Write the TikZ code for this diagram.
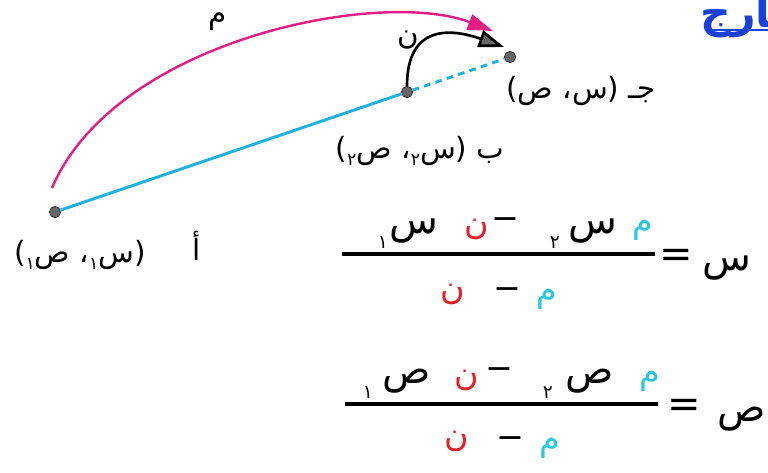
\documentclass[tikz,border=0pt]{standalone}
\usepackage{fontspec}
\usepackage{tikz}
\usetikzlibrary{arrows.meta}
\newfontfamily\arabicfont[Script=Arabic]{DejaVu Sans}
\TeXXeTstate=1
\definecolor{cian}{RGB}{30,178,226}
\definecolor{cel}{RGB}{40,200,225}
\definecolor{vermell}{RGB}{232,30,40}
\definecolor{rosa}{RGB}{228,28,132}
\definecolor{blau}{RGB}{25,65,215}
\newcommand\sota[1]{\raisebox{-0.45ex}{\fontsize{13}{13}\selectfont #1}}

\begin{document}
\begin{tikzpicture}[x=0.75pt,y=-0.75pt,
        punt/.style={circle,draw=black,fill=black!60,inner sep=0pt,minimum size=8.5pt},
        etiq/.style={font=\arabicfont\fontsize{22}{26}\selectfont,inner sep=0pt},
        lletra/.style={font=\arabicfont\fontsize{30}{34}\selectfont,inner sep=0pt},
        petita/.style={font=\arabicfont\fontsize{25}{28}\selectfont,inner sep=0pt},
        index/.style={font=\arabicfont\fontsize{14}{16}\selectfont,inner sep=0pt},
        barra/.style={line width=2.6pt}]
        \useasboundingbox (0,0) rectangle (768,472);
        \clip (0,0) rectangle (768,472);
        % Els tres punts i el segment
        \node[punt] (A) at (55,212) {};
        \node[punt] (B) at (407,92) {};
        \node[punt] (C) at (510,57) {};
        \draw[cian,line width=2.2pt] (A) -- (B);
        \draw[cian,line width=2.2pt,dash pattern=on 5pt off 4pt] (B) -- (C);
        % Arcs amb fletxa
        \coordinate (m0) at (52,188);
        \coordinate (m1) at (493,31);
        \draw[rosa,line width=1.8pt,-{Triangle[length=19pt,width=12pt]}]
                (m0) .. controls (115,40) and (380,-12) .. (m1);
        \coordinate (n1) at (504,47);
        \draw[line width=2pt,-{Triangle[length=19pt,width=13pt,fill=black!60]}]
                (B.north) .. controls (407,25) and (450,28) .. (n1);
        \node[etiq] (lm) at (218,22) {م};
        \node[etiq] (ln) at (408,40) {ن};
        % Coordenades
        \node[etiq] (lC) at (581,91) {\beginR جـ (س، ص)\endR};
        \node[etiq] (lB) at (420,151) {\beginR ب (س\sota{٢}، ص\sota{٢})\endR};
        \node[etiq] (lA) at (197,246) {أ};
        \node[etiq] (lA2) at (80,255) {\beginR (س\sota{١}، ص\sota{١})\endR};
        % Titol tallat
        \node[font=\arabicfont\bfseries\fontsize{32}{36}\selectfont,text=blau,anchor=west,inner sep=0pt]
                (tit) at (700,16) {خارج};
        \draw[blau,line width=1.8pt] (705,30) -- (768,30);
        % Primera formula: x
        \draw[barra] (342,254) -- (655,254);
        \node[index] (x1i) at (383,243) {١};
        \node[lletra] (x1) at (414,231) {س};
        \node[petita,text=vermell] (nx) at (477,229) {ن};
        \node[petita] (mx) at (505,224) {−};
        \node[index] (x2i) at (555,243) {٢};
        \node[lletra] (x2) at (593,231) {س};
        \node[petita,text=cel] (mx2) at (643,230) {م};
        \node[petita,text=vermell] (dnx) at (453,294) {ن};
        \node[petita] (dmx) at (507,294) {−};
        \node[petita,text=cel] (dmmx) at (547,299) {م};
        \node[lletra] (igx) at (676,258) {=};
        \node[lletra] (x) at (727,268) {س};
        % Segona formula: y
        \draw[barra] (345,404) -- (658,404);
        \node[index] (y1i) at (368,393) {١};
        \node[lletra] (y1) at (407,381) {ص};
        \node[petita,text=vermell] (ny) at (467,380) {ن};
        \node[petita] (my) at (499,374) {−};
        \node[index] (y2i) at (548,393) {٢};
        \node[lletra] (y2) at (590,381) {ص};
        \node[petita,text=cel] (my2) at (650,381) {م};
        \node[petita,text=vermell] (dny) at (457,441) {ن};
        \node[petita] (dmy) at (510,443) {−};
        \node[petita,text=cel] (dmmy) at (550,448) {م};
        \node[lletra] (igy) at (684,408) {=};
        \node[lletra] (y) at (742,419) {ص};
    \end{tikzpicture}
\end{document}
